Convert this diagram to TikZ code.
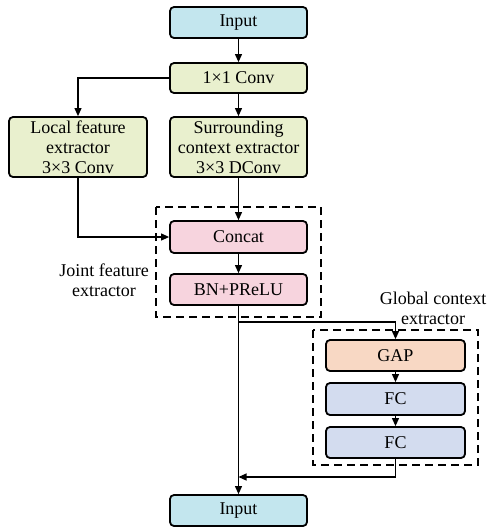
\documentclass[tikz,border=0pt]{standalone}
\usepackage{fontspec}
\setmainfont{Liberation Serif}
\usetikzlibrary{arrows.meta}
\definecolor{cin}{HTML}{C3E6EE}
\definecolor{cgreen}{HTML}{E9F0CE}
\definecolor{cpink}{HTML}{F7D4DE}
\definecolor{cgap}{HTML}{F8D8C4}
\definecolor{cfc}{HTML}{D3DCEF}
\begin{document}
\begin{tikzpicture}[x=1pt,y=-1pt,
  blk/.style={draw=black,line width=1.8pt,rounded corners=4pt,minimum width=137pt,minimum height=31pt,inner sep=0pt,align=center,font=\fontsize{18}{20}\selectfont},
  grp/.style={draw=black,line width=1.6pt,dash pattern=on 8pt off 5pt},
  lbl/.style={align=center,font=\fontsize{18}{20}\selectfont,inner sep=0pt},
  arr/.style={line width=1.1pt,-{Triangle[length=8pt,width=7pt]}},
  ln/.style={line width=1.1pt}]
\useasboundingbox (0,0) rectangle (491,528);
\draw[grp] (156,207) rectangle (321,317);
\draw[grp] (313,330) rectangle (478,465);
\node[blk,fill=cin] (in) at (238.5,22.5) {Input};
\node[blk,fill=cgreen,minimum height=30pt] (conv) at (238.5,78) {1×1 Conv};
\node[blk,fill=cgreen,minimum width=138pt,minimum height=60pt] (loc) at (78,147) {Local feature\\extractor\\3×3 Conv};
\node[blk,fill=cgreen,minimum height=60pt] (sur) at (238.5,147) {Surrounding\\context extractor\\3×3 DConv};
\node[blk,fill=cpink,minimum height=32pt] (cat) at (238.5,237) {Concat};
\node[blk,fill=cpink] (bn) at (238.5,289.5) {BN+PReLU};
\node[blk,fill=cgap,minimum width=139pt] (gap) at (395.5,355.5) {GAP};
\node[blk,fill=cfc,minimum width=139pt,minimum height=32pt] (fc1) at (395.5,399) {FC};
\node[blk,fill=cfc,minimum width=139pt,minimum height=31pt] (fc2) at (395.5,442.5) {FC};
\node[blk,fill=cin] (out) at (238.5,510.5) {Input};
\node[lbl] (jl) at (104,280) {Joint feature\\extractor};
\node[lbl] (gl) at (433,308) {Global context\\extractor};
\coordinate (br) at (238.5,322);
\coordinate (mg) at (238.5,477);
\draw[arr] (in) -- (conv);
\draw[arr] (conv.west) -| (loc.north);
\draw[arr] (conv) -- (sur);
\draw[arr] (loc.south) |- (cat.west);
\draw[arr] (sur) -- (cat);
\draw[arr] (cat) -- (bn);
\draw[arr] (bn) -- (out);
\draw[arr] (br) -| (gap.north);
\draw[arr] (gap) -- (fc1);
\draw[arr] (fc1) -- (fc2);
\draw[arr] (fc2.south) |- (mg);
\end{tikzpicture}
\end{document}
